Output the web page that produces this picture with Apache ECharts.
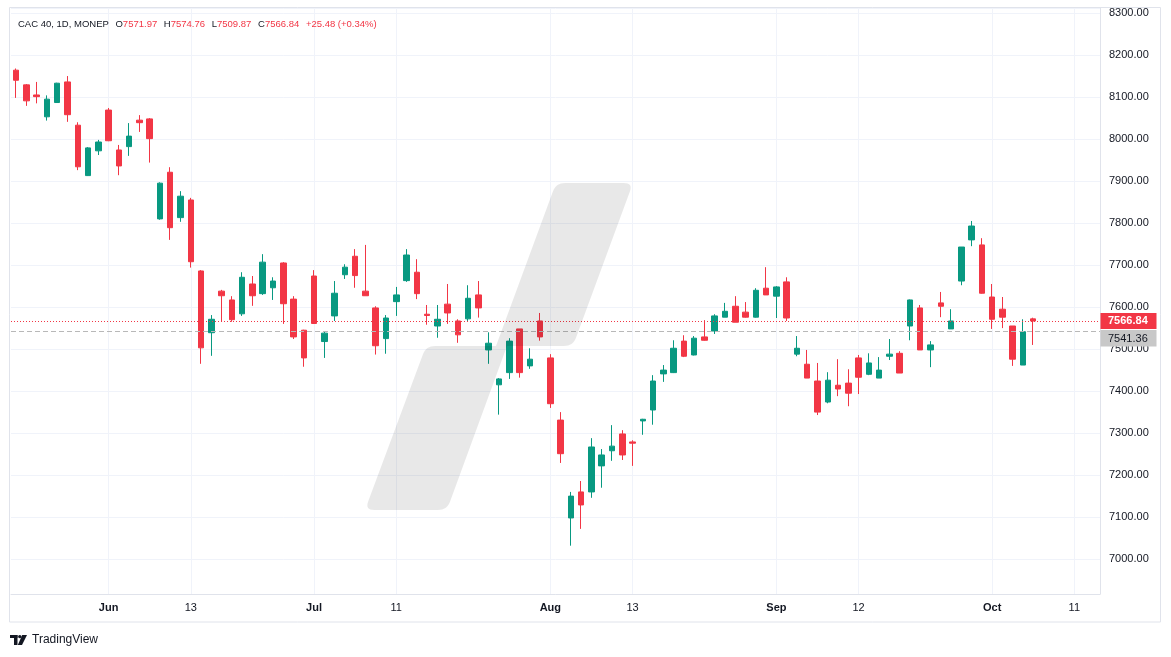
<!DOCTYPE html>
<html><head><meta charset="utf-8">
<script src="https://cdn.jsdelivr.net/npm/echarts@6/dist/echarts.min.js"></script>
<style>html,body{margin:0;padding:0;background:#fff}#c{width:1171px;height:657px}</style>
</head><body><div id="c"></div>
<script>
const dates = [
'2024-05-21','2024-05-22','2024-05-23','2024-05-24','2024-05-27','2024-05-28','2024-05-29','2024-05-30','2024-05-31',
'2024-06-03','2024-06-04','2024-06-05','2024-06-06','2024-06-07','2024-06-10','2024-06-11','2024-06-12','2024-06-13','2024-06-14','2024-06-17','2024-06-18','2024-06-19','2024-06-20','2024-06-21','2024-06-24','2024-06-25','2024-06-26','2024-06-27','2024-06-28',
'2024-07-01','2024-07-02','2024-07-03','2024-07-04','2024-07-05','2024-07-08','2024-07-09','2024-07-10','2024-07-11','2024-07-12','2024-07-15','2024-07-16','2024-07-17','2024-07-18','2024-07-19','2024-07-22','2024-07-23','2024-07-24','2024-07-25','2024-07-26','2024-07-29','2024-07-30','2024-07-31',
'2024-08-01','2024-08-02','2024-08-05','2024-08-06','2024-08-07','2024-08-08','2024-08-09','2024-08-12','2024-08-13','2024-08-14','2024-08-15','2024-08-16','2024-08-19','2024-08-20','2024-08-21','2024-08-22','2024-08-23','2024-08-26','2024-08-27','2024-08-28','2024-08-29','2024-08-30',
'2024-09-02','2024-09-03','2024-09-04','2024-09-05','2024-09-06','2024-09-09','2024-09-10','2024-09-11','2024-09-12','2024-09-13','2024-09-16','2024-09-17','2024-09-18','2024-09-19','2024-09-20','2024-09-23','2024-09-24','2024-09-25','2024-09-26','2024-09-27','2024-09-30',
'2024-10-01','2024-10-02','2024-10-03','2024-10-04','2024-10-07','2024-10-08','2024-10-09','2024-10-10','2024-10-11','2024-10-14','2024-10-15'];

const opens = [8164,8129,8105,8053,8087,8136,8033,7913,7972,
8069,7974,7982,8045,8048,7810,7921,7813,7855,7686,7539,7638,7617,7584,7655,7632,7646,7705,7619,7545,
7674,7518,7579,7677,7721,7638,7598,7525,7613,7663,7683,7583,7555,7607,7567,7572,7629,7498,7415,7444,7548,7460,7567,
7479,7331,7098,7160,7160,7222,7258,7298,7279,7329,7355,7441,7444,7519,7486,7529,7543,7576,7602,7588,7576,7645,
7626,7660,7488,7464,7424,7374,7414,7419,7479,7440,7431,7483,7490,7555,7598,7498,7610,7548,7662,7760,7748,
7624,7595,7555,7462,7571.97];
const highs = [8168,8131,8136,8104,8134,8150,8040,7981,7998,
8074,7986,8038,8057,8050,7897,7933,7876,7860,7688,7581,7641,7626,7683,7674,7726,7671,7707,7626,7546,
7688,7543,7662,7702,7738,7748,7602,7581,7648,7738,7714,7605,7605,7655,7571,7652,7662,7540,7431,7526,7548,7502,7586,
7488,7350,7160,7186,7288,7262,7319,7307,7283,7334,7438,7462,7521,7533,7531,7569,7583,7610,7626,7612,7645,7695,
7650,7671,7531,7498,7467,7445,7476,7452,7486,7490,7481,7524,7495,7618,7605,7519,7636,7595,7743,7805,7764,
7655,7624,7555,7571,7574.76];
const lows = [8098,8079,8085,8044,8086,8041,7926,7912,7962,
7995,7914,7960,8017,7944,7808,7760,7803,7694,7465,7484,7565,7565,7579,7603,7629,7617,7560,7524,7458,
7560,7479,7567,7667,7646,7627,7487,7489,7579,7660,7619,7558,7527,7560,7515,7567,7575,7465,7344,7429,7432,7453,7520,
7360,7229,7032,7072,7146,7170,7234,7236,7222,7296,7320,7422,7443,7481,7485,7520,7536,7576,7564,7575,7575,7629,
7574,7567,7483,7431,7343,7371,7388,7364,7393,7438,7431,7474,7443,7521,7498,7457,7576,7548,7652,7745,7632,
7548,7550,7460,7462,7509.87];
const closes = [8140,8091,8101,8095,8133,8058,7934,7979,7993,
7996,7936,8007,8039,8001,7895,7789,7864,7708,7503,7571,7627,7570,7671,7627,7707,7662,7608,7529,7479,
7561,7538,7633,7695,7675,7627,7508,7574,7629,7724,7632,7580,7571,7586,7534,7621,7598,7514,7429,7519,7444,7476,7529,
7370,7251,7150,7129,7267,7248,7269,7248,7276,7333,7424,7450,7502,7483,7526,7521,7579,7590,7564,7576,7640,7629,
7648,7574,7502,7431,7350,7426,7405,7395,7433,7467,7450,7488,7443,7617,7498,7510,7602,7567,7743,7793,7633,
7571,7576,7476,7541.36,7566.84];

const tickDates = ['2024-06-03','2024-06-13','2024-07-01','2024-07-11','2024-08-01','2024-08-13','2024-09-02','2024-09-12','2024-10-01','2024-10-11'];
const tickTexts = ['Jun','13','Jul','11','Aug','13','Sep','12','Oct','11'];
const tickIsMonth = [true,false,true,false,true,false,true,false,true,false];

const lastClose = 7566.84;
const prevClose = 7541.36;
const header = {name:'CAC 40, 1D, MONEP', o:'7571.97', h:'7574.76', l:'7509.87', c:'7566.84', chg:'+25.48 (+0.34%)'};

const UP = '#089981', DOWN = '#f23645', TXT = '#131722', GRID = '#f0f3fa', BORDER = '#e0e3eb';
const FONT = '"Liberation Sans", Arial, sans-serif';

const candleData = opens.map((o, i) => [o, closes[i], lows[i], highs[i]]);

const chart = echarts.init(document.getElementById('c'), null, {renderer: 'canvas'});
const isTick = (idx, val) => tickDates.indexOf(val) >= 0;

chart.setOption({
  animation: false,
  backgroundColor: '#ffffff',
  grid: {left: 11, right: 71, top: 8, bottom: 63, containLabel: false},
  xAxis: {
    type: 'category', data: dates, boundaryGap: true,
    axisLine: {show: true, lineStyle: {color: BORDER}},
    axisTick: {show: false},
    axisLabel: {
      interval: isTick, margin: 8, color: TXT, fontSize: 11, fontFamily: FONT, hideOverlap: false,
      formatter: function (v) {
        const k = tickDates.indexOf(v);
        if (k < 0) return '';
        return tickIsMonth[k] ? '{m|' + tickTexts[k] + '}' : '{d|' + tickTexts[k] + '}';
      },
      rich: {
        m: {fontWeight: 'bold', fontSize: 11, color: TXT, fontFamily: FONT},
        d: {fontSize: 11, color: TXT, fontFamily: FONT}
      }
    },
    splitLine: {show: true, interval: isTick, alignWithLabel: true, lineStyle: {color: GRID, width: 1}}
  },
  yAxis: {
    type: 'value', position: 'right', min: 6917, max: 8312, splitNumber: 14, scale: true,
    axisLine: {show: true, lineStyle: {color: BORDER}},
    axisTick: {show: false},
    axisLabel: {
      margin: 9, color: TXT, fontSize: 11, fontFamily: FONT,
      showMinLabel: false, showMaxLabel: false,
      formatter: v => (Math.abs(v % 100) < 1e-6) ? v.toFixed(2) : ''
    },
    splitLine: {show: true, lineStyle: {color: GRID, width: 1}}
  },
  series: [{
    type: 'candlestick', data: candleData, barWidth: 6,
    itemStyle: {color: UP, color0: DOWN, borderColor: UP, borderColor0: DOWN, borderWidth: 1},
    markLine: {
      silent: true, symbol: ['none', 'none'], animation: false,
      label: {show: false},
      data: [
        {yAxis: lastClose, lineStyle: {color: DOWN, type: [1, 2], width: 1}},
        {yAxis: prevClose, lineStyle: {color: '#b8b8b8', type: [5, 3], width: 1}}
      ]
    }
  }]
});

const yR = chart.convertToPixel({yAxisIndex: 0}, lastClose);
const yG0 = chart.convertToPixel({yAxisIndex: 0}, prevClose);
const boxH = 16;
const yRTop = Math.round(yR - boxH / 2);
const yGTop = Math.max(Math.round(yG0 - boxH / 2), yRTop + boxH + 1);
const axisX = 1100;

// decorative watermark outline (pixel-space), corners rounded by sampling
function roundedPoly(verts, r) {
  const out = [];
  const n = verts.length;
  for (let i = 0; i < n; i++) {
    const v = verts[i];
    if (!v[2]) { out.push([v[0], v[1]]); continue; }
    const p = verts[(i - 1 + n) % n], q = verts[(i + 1) % n];
    const d1x = p[0] - v[0], d1y = p[1] - v[1], l1 = Math.hypot(d1x, d1y);
    const d2x = q[0] - v[0], d2y = q[1] - v[1], l2 = Math.hypot(d2x, d2y);
    const a = [v[0] + d1x / l1 * r, v[1] + d1y / l1 * r];
    const b = [v[0] + d2x / l2 * r, v[1] + d2y / l2 * r];
    for (let t = 0; t <= 1.0001; t += 0.125) {
      const u = 1 - t;
      out.push([u * u * a[0] + 2 * u * t * v[0] + t * t * b[0], u * u * a[1] + 2 * u * t * v[1] + t * t * b[1]]);
    }
  }
  return out;
}
const wmPts = roundedPoly([[556,183,1],[633,183,1],[573,346,1],[507,346,0],[447,510,1],[365,510,1],[426,346,1],[496,346,0]], 9);

chart.setOption({
  graphic: [
    {type: 'rect', z: 0, silent: true, shape: {x: 9.5, y: 7.5, width: 1151, height: 614.5}, style: {fill: 'none', stroke: BORDER, lineWidth: 1}},
    {type: 'polygon', z: 50, silent: true, shape: {points: wmPts}, style: {fill: 'rgba(0,0,0,0.09)'}},
    {type: 'text', z: 60, left: 18, top: 18, silent: true, style: {
      text: '{n|' + header.name + '}  {k|O}{v|' + header.o + '}  {k|H}{v|' + header.h + '}  {k|L}{v|' + header.l + '}  {k|C}{v|' + header.c + '}  {v|' + header.chg + '}',
      rich: {
        n: {fill: TXT, fontSize: 9.5, fontFamily: FONT},
        k: {fill: TXT, fontSize: 9.5, fontFamily: FONT},
        v: {fill: DOWN, fontSize: 9.5, fontFamily: FONT}
      }
    }},
    {type: 'rect', z: 70, silent: true, shape: {x: axisX + 0.5, y: yRTop, width: 56, height: boxH}, style: {fill: DOWN}},
    {type: 'text', z: 71, silent: true, x: axisX + 8, y: yRTop + boxH / 2, style: {text: lastClose.toFixed(2), fill: '#ffffff', fontSize: 11, fontWeight: 'bold', fontFamily: FONT, verticalAlign: 'middle', align: 'left'}},
    {type: 'rect', z: 70, silent: true, shape: {x: axisX + 0.5, y: yGTop, width: 56, height: boxH + 0.5}, style: {fill: '#c8c8c8'}},
    {type: 'text', z: 71, silent: true, x: axisX + 8, y: yGTop + boxH / 2 + 0.5, style: {text: prevClose.toFixed(2), fill: TXT, fontSize: 11, fontFamily: FONT, verticalAlign: 'middle', align: 'left'}},
    {type: 'rect', z: 60, silent: true, shape: {x: 10, y: 635, width: 7.5, height: 3}, style: {fill: TXT}},
    {type: 'rect', z: 60, silent: true, shape: {x: 14, y: 635, width: 3.5, height: 10}, style: {fill: TXT}},
    {type: 'circle', z: 60, silent: true, shape: {cx: 19.8, cy: 636.6, r: 1.7}, style: {fill: TXT}},
    {type: 'polygon', z: 60, silent: true, shape: {points: [[22.2, 635], [27, 635], [22, 645], [17.8, 645]]}, style: {fill: TXT}},
    {type: 'text', z: 60, silent: true, x: 32, y: 640, style: {text: 'TradingView', fill: TXT, fontSize: 12, fontFamily: FONT, verticalAlign: 'middle'}}
  ]
});
</script></body></html>
